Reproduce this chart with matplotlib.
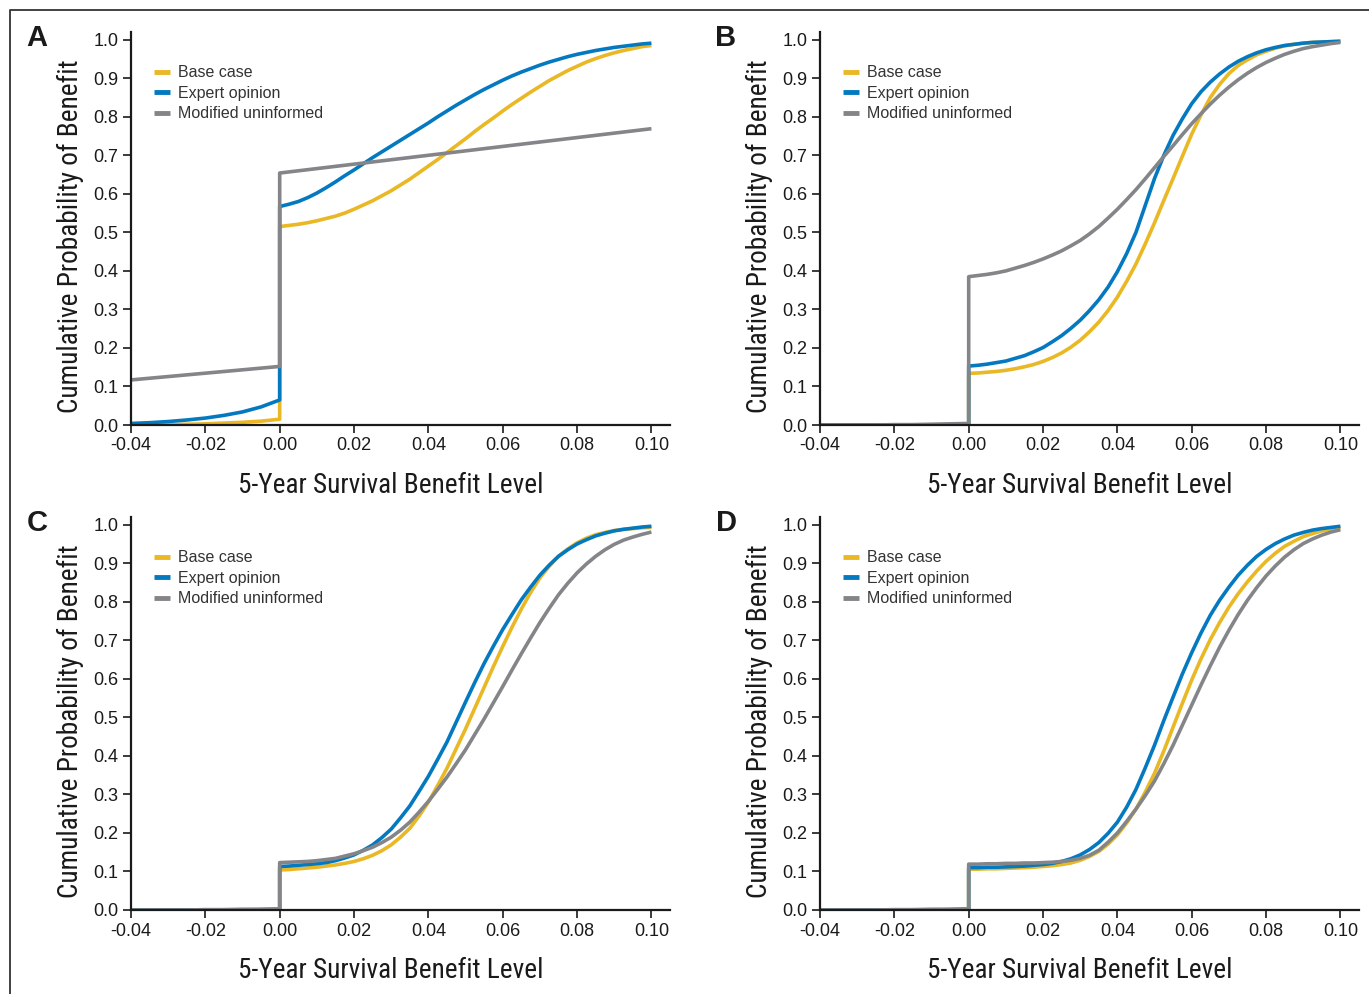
import numpy as np
import matplotlib.pyplot as plt
from matplotlib.lines import Line2D
from matplotlib import font_manager

plt.rcParams['font.family'] = ['Liberation Sans', 'DejaVu Sans']

# ---------------- data ----------------
x_neg = [-0.04, -0.035, -0.03, -0.025, -0.02, -0.015, -0.01, -0.005, 0.0]
x_pos = [0.0, 0.0025, 0.005, 0.0075, 0.01, 0.0125, 0.015, 0.0175, 0.02, 0.0225,
         0.025, 0.0275, 0.03, 0.0325, 0.035, 0.0375, 0.04, 0.0425, 0.045, 0.0475,
         0.05, 0.0525, 0.055, 0.0575, 0.06, 0.0625, 0.065, 0.0675, 0.07, 0.0725,
         0.075, 0.0775, 0.08, 0.0825, 0.085, 0.0875, 0.09, 0.0925, 0.095, 0.0975, 0.10]
x_lin_neg = [-0.04, 0.0]
x_lin_pos = [0.0, 0.10]

series_names = ['Base case', 'Expert opinion', 'Modified uninformed']
series_colors = ['#E9B824', '#0479C0', '#848589']

# Panel A
a_base_neg = [0.0, 0.0005, 0.001, 0.002, 0.003, 0.005, 0.007, 0.010, 0.015]
a_base_pos = [0.515, 0.518, 0.521, 0.525, 0.530, 0.536, 0.542, 0.550, 0.560, 0.571,
              0.582, 0.595, 0.608, 0.623, 0.638, 0.655, 0.672, 0.689, 0.707, 0.725,
              0.743, 0.762, 0.780, 0.797, 0.815, 0.832, 0.848, 0.864, 0.879, 0.894,
              0.907, 0.920, 0.931, 0.942, 0.951, 0.959, 0.966, 0.972, 0.977, 0.982, 0.985]
a_expert_neg = [0.004, 0.006, 0.009, 0.013, 0.018, 0.025, 0.034, 0.047, 0.065]
a_expert_pos = [0.567, 0.573, 0.580, 0.590, 0.602, 0.616, 0.631, 0.647, 0.662, 0.678,
                0.694, 0.709, 0.724, 0.739, 0.754, 0.769, 0.784, 0.800, 0.815, 0.830,
                0.844, 0.858, 0.871, 0.883, 0.895, 0.906, 0.916, 0.925, 0.934, 0.942,
                0.949, 0.956, 0.962, 0.967, 0.972, 0.976, 0.980, 0.983, 0.986, 0.989, 0.991]
a_modif_neg = [0.117, 0.152]
a_modif_pos = [0.654, 0.769]

# Panel B
b_base_neg = [0.0, 0.0, 0.0, 0.0, 0.0, 0.0, 0.0, 0.0, 0.001]
b_base_pos = [0.134, 0.135, 0.137, 0.139, 0.142, 0.146, 0.151, 0.157, 0.165, 0.175,
              0.187, 0.202, 0.220, 0.242, 0.267, 0.297, 0.332, 0.373, 0.418, 0.470,
              0.525, 0.583, 0.640, 0.698, 0.755, 0.805, 0.850, 0.884, 0.912, 0.933,
              0.948, 0.961, 0.970, 0.978, 0.984, 0.988, 0.991, 0.993, 0.994, 0.995, 0.996]
b_expert_neg = [0.0, 0.0, 0.0, 0.0, 0.0, 0.0, 0.0, 0.001, 0.002]
b_expert_pos = [0.153, 0.155, 0.158, 0.162, 0.166, 0.173, 0.180, 0.190, 0.201, 0.216,
                0.232, 0.251, 0.272, 0.297, 0.325, 0.358, 0.398, 0.445, 0.500, 0.570,
                0.640, 0.700, 0.752, 0.795, 0.834, 0.865, 0.890, 0.911, 0.929, 0.944,
                0.956, 0.966, 0.974, 0.980, 0.985, 0.988, 0.991, 0.993, 0.994, 0.995, 0.996]
b_modif_neg = [0.0, 0.0, 0.0, 0.0, 0.001, 0.001, 0.002, 0.003, 0.004]
b_modif_pos = [0.385, 0.388, 0.391, 0.395, 0.400, 0.407, 0.414, 0.422, 0.431, 0.441,
               0.452, 0.465, 0.479, 0.496, 0.515, 0.537, 0.560, 0.585, 0.611, 0.639,
               0.668, 0.697, 0.725, 0.754, 0.782, 0.808, 0.833, 0.856, 0.877, 0.896,
               0.913, 0.928, 0.941, 0.952, 0.962, 0.970, 0.977, 0.982, 0.986, 0.990, 0.993]

# Panel C
c_base_neg = [0.0, 0.0, 0.0, 0.0, 0.0, 0.0, 0.0, 0.0, 0.001]
c_base_pos = [0.104, 0.105, 0.107, 0.109, 0.111, 0.114, 0.117, 0.121, 0.126, 0.133,
              0.142, 0.154, 0.169, 0.189, 0.212, 0.244, 0.280, 0.323, 0.368, 0.419,
              0.470, 0.524, 0.578, 0.632, 0.684, 0.734, 0.781, 0.824, 0.862, 0.892,
              0.918, 0.937, 0.953, 0.965, 0.974, 0.980, 0.985, 0.988, 0.990, 0.992, 0.993]
c_expert_neg = [0.0, 0.0, 0.0, 0.0, 0.0, 0.0, 0.0, 0.001, 0.002]
c_expert_pos = [0.113, 0.114, 0.116, 0.118, 0.120, 0.123, 0.128, 0.135, 0.143, 0.155,
                0.169, 0.188, 0.210, 0.239, 0.270, 0.308, 0.347, 0.391, 0.436, 0.488,
                0.540, 0.591, 0.640, 0.685, 0.728, 0.767, 0.805, 0.838, 0.869, 0.895,
                0.918, 0.935, 0.950, 0.961, 0.971, 0.978, 0.984, 0.988, 0.991, 0.994, 0.996]
c_modif_neg = [0.0, 0.0, 0.0, 0.0, 0.001, 0.001, 0.002, 0.002, 0.003]
c_modif_pos = [0.123, 0.124, 0.125, 0.126, 0.128, 0.131, 0.134, 0.140, 0.146, 0.154,
               0.163, 0.175, 0.189, 0.207, 0.228, 0.254, 0.282, 0.313, 0.345, 0.380,
               0.416, 0.456, 0.496, 0.538, 0.580, 0.623, 0.665, 0.706, 0.746, 0.783,
               0.818, 0.848, 0.875, 0.898, 0.918, 0.935, 0.949, 0.960, 0.968, 0.975, 0.981]

# Panel D
d_base_neg = [0.0, 0.0, 0.0, 0.0, 0.0, 0.0, 0.0, 0.0, 0.001]
d_base_pos = [0.106, 0.106, 0.107, 0.107, 0.108, 0.109, 0.110, 0.111, 0.113, 0.115,
              0.118, 0.122, 0.129, 0.139, 0.152, 0.171, 0.195, 0.226, 0.262, 0.306,
              0.355, 0.413, 0.475, 0.537, 0.597, 0.652, 0.702, 0.746, 0.786, 0.821,
              0.852, 0.880, 0.905, 0.926, 0.944, 0.957, 0.969, 0.977, 0.984, 0.989, 0.993]
d_expert_neg = [0.0, 0.0, 0.0, 0.0, 0.0, 0.0, 0.0, 0.001, 0.002]
d_expert_pos = [0.110, 0.110, 0.111, 0.111, 0.112, 0.113, 0.114, 0.116, 0.118, 0.121,
                0.126, 0.133, 0.143, 0.157, 0.175, 0.199, 0.228, 0.267, 0.313, 0.369,
                0.428, 0.492, 0.553, 0.613, 0.668, 0.719, 0.765, 0.804, 0.838, 0.869,
                0.895, 0.918, 0.936, 0.951, 0.963, 0.973, 0.980, 0.986, 0.990, 0.993, 0.996]
d_modif_neg = [0.0, 0.0, 0.0, 0.0, 0.001, 0.001, 0.002, 0.002, 0.003]
d_modif_pos = [0.119, 0.119, 0.120, 0.120, 0.121, 0.121, 0.122, 0.122, 0.123, 0.124,
               0.126, 0.129, 0.134, 0.142, 0.155, 0.176, 0.200, 0.230, 0.262, 0.297,
               0.335, 0.380, 0.428, 0.480, 0.532, 0.584, 0.634, 0.682, 0.726, 0.767,
               0.804, 0.837, 0.867, 0.893, 0.916, 0.935, 0.951, 0.963, 0.973, 0.981, 0.987]

panel_letters = ['A', 'B', 'C', 'D']
x_ticks = [-0.04, -0.02, 0.0, 0.02, 0.04, 0.06, 0.08, 0.10]
y_ticks = [0.0, 0.1, 0.2, 0.3, 0.4, 0.5, 0.6, 0.7, 0.8, 0.9, 1.0]

panels = [
    [(x_neg, a_base_neg, x_pos, a_base_pos), (x_neg, a_expert_neg, x_pos, a_expert_pos),
     (x_lin_neg, a_modif_neg, x_lin_pos, a_modif_pos)],
    [(x_neg, b_base_neg, x_pos, b_base_pos), (x_neg, b_expert_neg, x_pos, b_expert_pos),
     (x_neg, b_modif_neg, x_pos, b_modif_pos)],
    [(x_neg, c_base_neg, x_pos, c_base_pos), (x_neg, c_expert_neg, x_pos, c_expert_pos),
     (x_neg, c_modif_neg, x_pos, c_modif_pos)],
    [(x_neg, d_base_neg, x_pos, d_base_pos), (x_neg, d_expert_neg, x_pos, d_expert_pos),
     (x_neg, d_modif_neg, x_pos, d_modif_pos)],
]

# condensed face for the axis titles, if one is installed
installed = {f.name: f for f in font_manager.fontManager.ttflist}
narrow = None
for cand in ['Liberation Sans Narrow', 'Roboto Condensed', 'Open Sans Condensed',
             'DejaVu Sans Condensed', 'Noto Sans Condensed']:
    if cand in installed:
        narrow = cand
        break
label_kw = dict(fontsize=19.6, color='#1a1a1a')
if narrow is not None:
    label_kw['family'] = [narrow, 'DejaVu Sans']
else:
    label_kw['family'] = ['DejaVu Sans']
    label_kw['fontstretch'] = 'condensed'
    label_kw['fontsize'] = 18

# ---------------- figure ----------------
W, H = 1369, 994
fig = plt.figure(figsize=(W / 100, H / 100), dpi=100)

# frame round the figure (only left and top edges visible)
fig.add_artist(Line2D([10 / W, 10 / W, 1.0], [0.0, 1 - 10 / H, 1 - 10 / H],
                      transform=fig.transFigure, color='#333333', lw=1.3))

lefts = [131, 820, 131, 820]
bottoms = [425, 425, 910, 910]
ax_w = 539
ax_h = 393

for i in range(4):
    ax = fig.add_axes([lefts[i] / W, 1 - bottoms[i] / H, ax_w / W, ax_h / H])
    for (xn, yn, xp, yp), name, col in zip(panels[i], series_names, series_colors):
        xs = list(xn) + list(xp)
        ys = list(yn) + list(yp)
        ax.plot(xs, ys, color=col, lw=2.6, label=name, solid_capstyle='butt')

    ax.set_xlim(-0.04, 0.105)
    ax.set_ylim(0, 1.02)
    ax.set_xticks(x_ticks)
    ax.set_xticklabels(['%.2f' % v for v in x_ticks])
    ax.set_yticks(y_ticks)
    ax.set_yticklabels(['%.1f' % v for v in y_ticks])
    for s in ['top', 'right']:
        ax.spines[s].set_visible(False)
    for s in ['left', 'bottom']:
        ax.spines[s].set_linewidth(1.6)
        ax.spines[s].set_color('#1a1a1a')
    ax.tick_params(direction='out', length=6, width=1.2, labelsize=13,
                   colors='#1a1a1a', pad=3)

    ax.set_xlabel('5-Year Survival Benefit Level', **label_kw)
    ax.set_ylabel('Cumulative Probability of Benefit', **label_kw)
    # titles centred on the -0.04..0.10 and 0..1 ranges
    ax.xaxis.set_label_coords(0.482, -0.120)
    ax.yaxis.set_label_coords(-0.088, 0.481)

    leg = ax.legend(loc='upper left', bbox_to_anchor=(0.03, 0.932), frameon=False,
                    fontsize=11.5, handlelength=1.0, handletextpad=0.5,
                    labelspacing=0.35, borderaxespad=0)
    for t in leg.get_texts():
        t.set_color('#333333')
    for h in leg.get_lines():
        h.set_linewidth(3.5)

    fig.text((lefts[i] - 94) / W, 1 - (bottoms[i] - 387) / H, panel_letters[i],
             fontsize=21, fontweight='bold', ha='center', va='center', color='#1a1a1a')

fig.savefig('out.png', dpi=100)
